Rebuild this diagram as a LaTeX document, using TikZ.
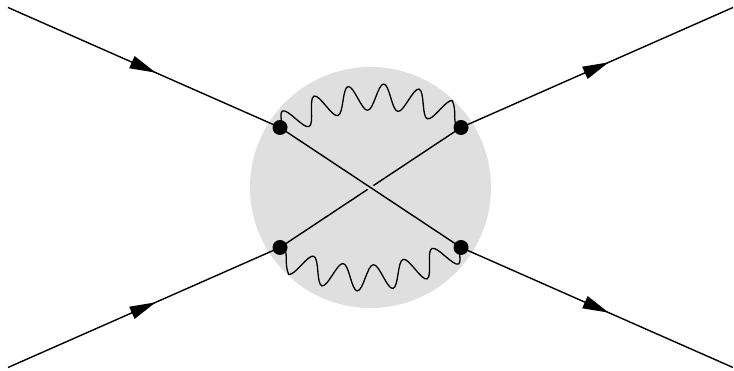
\documentclass[tikz,border=0pt]{standalone}
\usetikzlibrary{arrows.meta,decorations.pathmorphing,decorations.markings}

\begin{document}
\begin{tikzpicture}[x=1pt,y=1pt,blob/.style={circle,fill=gray!25,minimum size=241pt,inner sep=0pt},vertex/.style={circle,fill=black,minimum size=15pt,inner sep=0pt},fermion/.style={line width=1.4pt,postaction={decorate},decoration={markings,mark=at position 0.543 with {\arrow{Triangle[length=26pt,width=13pt]}}}},photon/.style={line width=1.3pt,decorate,decoration={snake,amplitude=13pt,segment length=33pt}},internal/.style={line width=1.4pt}]
\useasboundingbox (0,0) rectangle (734,371);
\coordinate (I1) at (8,363.5);
\coordinate (I2) at (8,3.5);
\coordinate (O1) at (733,363.5);
\coordinate (O2) at (733,3.5);
\coordinate (A) at (280,243.5);
\coordinate (B) at (461,243.5);
\coordinate (C) at (280,123.5);
\coordinate (D) at (461,123.5);
\node[blob] (loop) at (370.5,183.5) {};
\draw[internal] (C) -- (B);
\draw[internal,preaction={draw,gray!25,line width=6pt}] (A) -- (D);
\draw[photon] (A) to[bend left=30] (B);
\draw[photon] (D) to[bend left=30] (C);
\draw[fermion] (I1) -- (A);
\draw[fermion] (I2) -- (C);
\draw[fermion] (B) -- (O1);
\draw[fermion] (D) -- (O2);
\node[vertex] (va) at (A) {};
\node[vertex] (vb) at (B) {};
\node[vertex] (vc) at (C) {};
\node[vertex] (vd) at (D) {};
\end{tikzpicture}
\end{document}
